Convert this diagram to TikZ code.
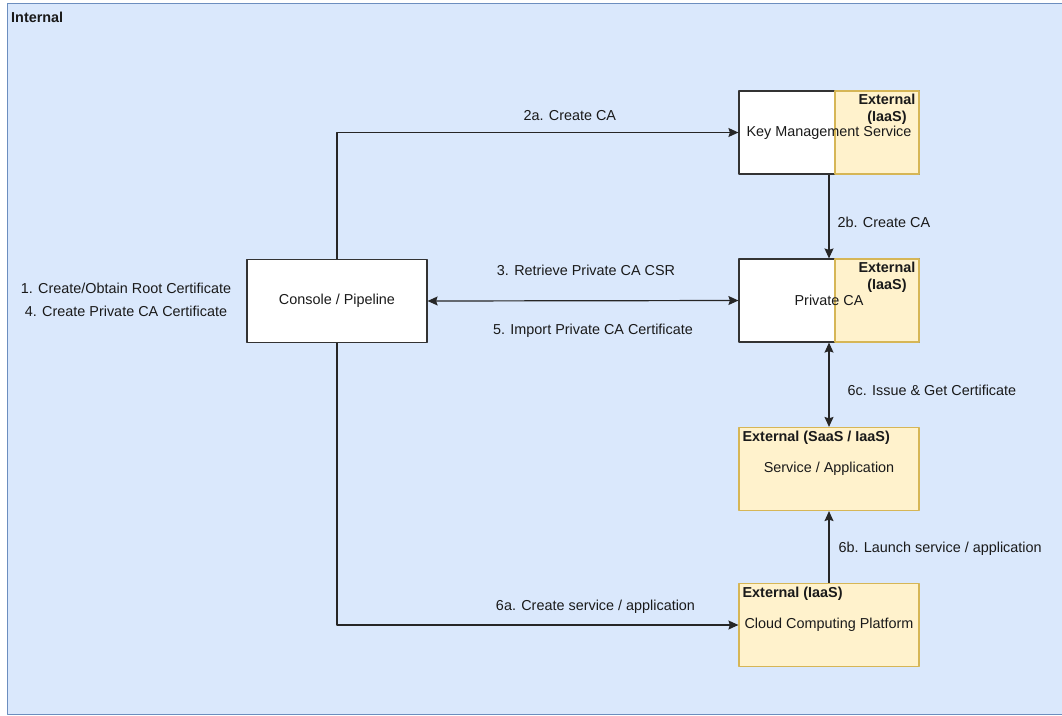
\documentclass[tikz,border=0pt]{standalone}
\usepackage{fontspec}
\setmainfont{Liberation Sans}
\usetikzlibrary{arrows.meta}
\definecolor{intfill}{HTML}{DAE8FC}
\definecolor{intline}{HTML}{6C8EBF}
\definecolor{extfill}{HTML}{FFF2CC}
\definecolor{extline}{HTML}{D6B656}
\definecolor{ink}{HTML}{1A1A1A}
\begin{document}
\begin{tikzpicture}[x=1pt, y=-1pt, font=\fontsize{14.4}{17}\selectfont, text=ink, line join=round,
  box/.style={draw=black!80, line width=1.2pt, fill=white, minimum width=180pt, minimum height=83pt, inner sep=0pt},
  ext/.style={box, draw=extline, fill=extfill},
  tag/.style={font=\fontsize{14.4}{17}\selectfont\bfseries, align=center, inner sep=3pt},
  lbl/.style={inner sep=0pt, anchor=base},
  flow/.style={draw=black!85, line width=1.2pt, -{Stealth[length=10pt,width=9pt,inset=1.5pt]}},
  twoway/.style={flow, {Stealth[length=10pt,width=9pt,inset=1.5pt]}-{Stealth[length=10pt,width=9pt,inset=1.5pt]}}]
\useasboundingbox (0,0) rectangle (1062,715);
% internal area
\filldraw[draw=intline, fill=intfill, line width=1pt] (7,3) rectangle (1070,714);
\node[tag, anchor=north west, inner sep=0pt] (int) at (11,12) {Internal};
\node[align=center, font=\fontsize{14.4}{23}\selectfont] (notes) at (126,300)
  {1. Create/Obtain Root Certificate\\4. Create Private CA Certificate};
% boxes
\node[box] (con) at (337,301) {Console / Pipeline};
\node[box] (kms) at (829,132.5) {};
\node[box] (pca) at (829,300.5) {};
\foreach \n in {kms,pca} {
  \node[ext, minimum width=84pt, anchor=north east] (\n x) at (\n.north east) {};
  \node[tag, anchor=north east] (\n t) at ([xshift=-1pt]\n.north east) {External\\(IaaS)};
}
\node (kmsl) at (kms) {Key Management Service};
\node (pcal) at (pca) {Private CA};
\node[ext] (svc) at (829,469) {Service / Application};
\node[tag, anchor=north west, inner sep=4pt] (svct) at (svc.north west) {External (SaaS / IaaS)};
\node[ext] (cld) at (829,625) {Cloud Computing Platform};
\node[tag, anchor=north west, inner sep=4pt] (cldt) at (cld.north west) {External (IaaS)};
% connectors
\draw[flow] (con.north) |- (kms.west) node[lbl, pos=.79, yshift=12pt] {2a. Create CA};
\draw[flow] (kms.south) -- (pca.north) node[lbl, anchor=base west, midway, xshift=8pt, yshift=-10.5pt] {2b. Create CA};
\draw[twoway] (con.east) -- (pca.west)
  node[lbl, midway, xshift=3pt, yshift=25pt] {3. Retrieve Private CA CSR}
  node[lbl, midway, xshift=10pt, yshift=-34pt] {5. Import Private CA Certificate};
\draw[twoway] (pca.south) -- (svc.north) node[lbl, anchor=base west, midway, xshift=18pt, yshift=-10.5pt] {6c. Issue \& Get Certificate};
\draw[flow] (cld.north) -- (svc.south) node[lbl, anchor=base west, midway, xshift=9pt, yshift=-5pt] {6b. Launch service / application};
\draw[flow] (con.south) |- (cld.west) node[lbl, pos=.822, yshift=15pt] {6a. Create service / application};
\end{tikzpicture}
\end{document}
